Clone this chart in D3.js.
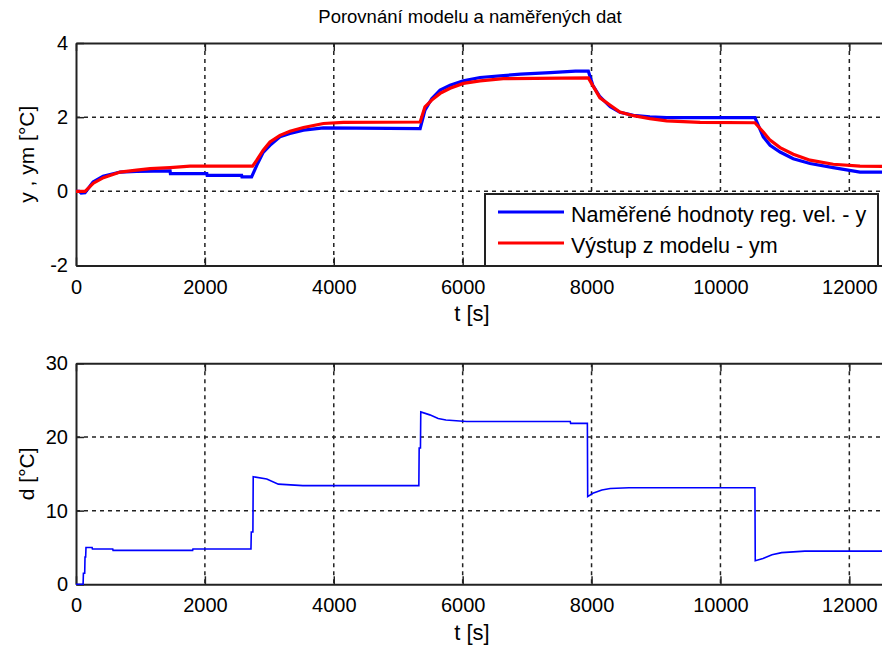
<!DOCTYPE html>
<html>
<head>
<meta charset="utf-8">
<script src="https://cdn.jsdelivr.net/npm/d3@7"></script>
<style>
  body { margin: 0; background: white; }
  text { font-family: "Liberation Sans", Arial, sans-serif; fill: #000; }
</style>
</head>
<body>
<div id="graf"></div>
<script>
// data
var tTicks = [0, 2000, 4000, 6000, 8000, 10000, 12000];
var yTicksTop = [-2, 0, 2, 4];
var yTicksBot = [0, 10, 20, 30];

// measured output y [°C]
var y_t = [0, 50, 80, 140, 265, 420, 685, 940, 1460, 1465, 2030, 2035, 2570, 2575, 2725, 2805, 2905, 3010, 3165, 3320, 3530, 3840, 5340, 5415, 5520, 5650, 5805, 6010, 6270, 6630, 6900, 7360, 7750, 7950, 8020, 8130, 8290, 8440, 8650, 8905, 9165, 10535, 10665, 10770, 10925, 11130, 11390, 11750, 12165, 12600];
var y_v = [0, 0, -0.05, -0.04, 0.25, 0.41, 0.52, 0.54, 0.55, 0.48, 0.48, 0.43, 0.43, 0.39, 0.39, 0.70, 1.05, 1.24, 1.47, 1.56, 1.65, 1.71, 1.69, 2.19, 2.50, 2.73, 2.86, 2.98, 3.07, 3.12, 3.16, 3.20, 3.24, 3.24, 2.86, 2.55, 2.28, 2.13, 2.05, 2.01, 1.99, 1.99, 1.47, 1.24, 1.06, 0.88, 0.75, 0.64, 0.52, 0.52];

// model output ym [°C]
var ym_t = [0, 140, 270, 425, 685, 940, 1150, 1460, 1770, 2740, 2805, 2905, 3010, 3165, 3320, 3530, 3840, 4150, 5340, 5415, 5520, 5650, 5805, 6010, 6270, 6630, 7950, 8130, 8290, 8440, 8650, 8905, 9165, 9685, 10535, 10665, 10770, 10925, 11130, 11390, 11750, 12165, 12600];
var ym_v = [0, 0, 0.22, 0.37, 0.52, 0.57, 0.61, 0.64, 0.68, 0.68, 0.84, 1.11, 1.33, 1.51, 1.62, 1.72, 1.83, 1.86, 1.87, 2.28, 2.46, 2.64, 2.78, 2.91, 2.98, 3.04, 3.06, 2.52, 2.32, 2.14, 2.04, 1.96, 1.90, 1.86, 1.85, 1.60, 1.38, 1.18, 1.00, 0.84, 0.73, 0.68, 0.67];

// disturbance d [°C]
var d_t = [0, 110, 115, 135, 140, 150, 155, 250, 255, 570, 575, 1810, 1815, 2715, 2720, 2745, 2750, 2960, 3140, 3520, 5320, 5325, 5345, 5350, 5490, 5620, 5740, 6060, 7670, 7675, 7935, 7940, 8020, 8160, 8290, 8580, 10535, 10540, 10660, 10800, 10950, 11310, 12600];
var d_v = [0, 0, 1.5, 1.5, 3.7, 3.7, 5.0, 5.0, 4.8, 4.8, 4.6, 4.6, 4.8, 4.8, 7.1, 7.1, 14.6, 14.3, 13.6, 13.4, 13.4, 18.5, 18.5, 23.4, 23.0, 22.5, 22.3, 22.1, 22.1, 21.85, 21.85, 11.9, 12.35, 12.8, 13.0, 13.1, 13.1, 3.2, 3.5, 4.0, 4.3, 4.5, 4.5];

var legendy = ["Naměřené hodnoty reg. vel. - y", "Výstup z modelu - ym"];

var width = 882, height = 648;

var svg = d3.select("#graf").append("svg")
  .attr("width", width)
  .attr("height", height)
  .style("display", "block");

var xscale = d3.scaleLinear().domain([0, 12600]).range([76, 888]);
var yTop = d3.scaleLinear().domain([-2, 4]).range([265.5, 43]);
var yBot = d3.scaleLinear().domain([0, 30]).range([584.3, 363.3]);

function pary(ts, vs) { return ts.map(function (t, i) { return [t, vs[i]]; }); }

function osy(yscale, yticks, ylabel, xlabelY) {
  var top = yscale.range()[1], bot = yscale.range()[0];

  // grid
  var g = svg.append("g").attr("class", "grid");
  g.selectAll(".gx").data(tTicks.slice(1)).enter().append("line")
    .attr("x1", d => xscale(d)).attr("x2", d => xscale(d))
    .attr("y1", top).attr("y2", bot)
    .attr("stroke", "#222").attr("stroke-width", 1.5).attr("stroke-dasharray", "4,4");
  g.selectAll(".gy").data(yticks.slice(1, -1)).enter().append("line")
    .attr("x1", 76).attr("x2", 888)
    .attr("y1", d => yscale(d)).attr("y2", d => yscale(d))
    .attr("stroke", "#222").attr("stroke-width", 1.5).attr("stroke-dasharray", "4,4");

  // axes
  var xb = svg.append("g").attr("transform", "translate(0," + bot + ")")
    .call(d3.axisBottom(xscale).tickValues(tTicks).tickSizeInner(-8).tickSizeOuter(0).tickPadding(14).tickFormat(d => String(d)));
  xb.selectAll("text").style("font-size", "20px");
  var xt = svg.append("g").attr("transform", "translate(0," + top + ")")
    .call(d3.axisTop(xscale).tickValues(tTicks).tickSizeInner(-8).tickSizeOuter(0).tickFormat(""));
  var yl = svg.append("g").attr("transform", "translate(76,0)")
    .call(d3.axisLeft(yscale).tickValues(yticks).tickSizeInner(-8).tickSizeOuter(0).tickPadding(8).tickFormat(d => String(d)));
  yl.selectAll("text").style("font-size", "20px");
  [xb, xt, yl].forEach(function (a) {
    a.select(".domain").attr("stroke", "#222").attr("stroke-width", 2);
    a.selectAll(".tick line").attr("stroke", "#222").attr("stroke-width", 1.5);
  });

  svg.append("text")
    .attr("x", 472).attr("y", xlabelY)
    .attr("text-anchor", "middle")
    .style("font-size", "22px")
    .text("t [s]");

  svg.append("text")
    .attr("transform", "translate(34," + ((top + bot) / 2) + ")rotate(-90)")
    .attr("text-anchor", "middle")
    .style("font-size", "21px")
    .text(ylabel);
}

osy(yTop, yTicksTop, "y , ym [°C]", 321);
osy(yBot, yTicksBot, "d [°C]", 640);

// title
svg.append("text")
  .attr("x", 470).attr("y", 23)
  .attr("text-anchor", "middle")
  .style("font-size", "18.5px")
  .text("Porovnání modelu a naměřených dat");

var lineTop = d3.line().x(d => xscale(d[0])).y(d => yTop(d[1]));
var lineBot = d3.line().x(d => xscale(d[0])).y(d => yBot(d[1]));

// measured
svg.append("path")
  .datum(pary(y_t, y_v))
  .attr("d", lineTop)
  .attr("fill", "none").attr("stroke", "#0000ff").attr("stroke-width", 3.2);

// model
svg.append("path")
  .datum(pary(ym_t, ym_v))
  .attr("d", lineTop)
  .attr("fill", "none").attr("stroke", "#ff0000").attr("stroke-width", 3.2);

// disturbance
svg.append("path")
  .datum(pary(d_t, d_v))
  .attr("d", lineBot)
  .attr("fill", "none").attr("stroke", "#0000ff").attr("stroke-width", 1.6);

// legend
var leg = svg.append("g");
leg.append("rect")
  .attr("x", 485).attr("y", 194)
  .attr("width", 393).attr("height", 72)
  .attr("fill", "white").attr("stroke", "#222").attr("stroke-width", 2);
var barvy = ["#0000ff", "#ff0000"];
legendy.forEach(function (s, i) {
  var yy = 212 + i * 31;
  leg.append("line")
    .attr("x1", 498).attr("x2", 564)
    .attr("y1", yy).attr("y2", yy)
    .attr("stroke", barvy[i]).attr("stroke-width", 3.2);
  leg.append("text")
    .attr("x", 571).attr("y", yy + 9.5)
    .style("font-size", "21.5px")
    .text(s);
});
</script>
</body>
</html>
